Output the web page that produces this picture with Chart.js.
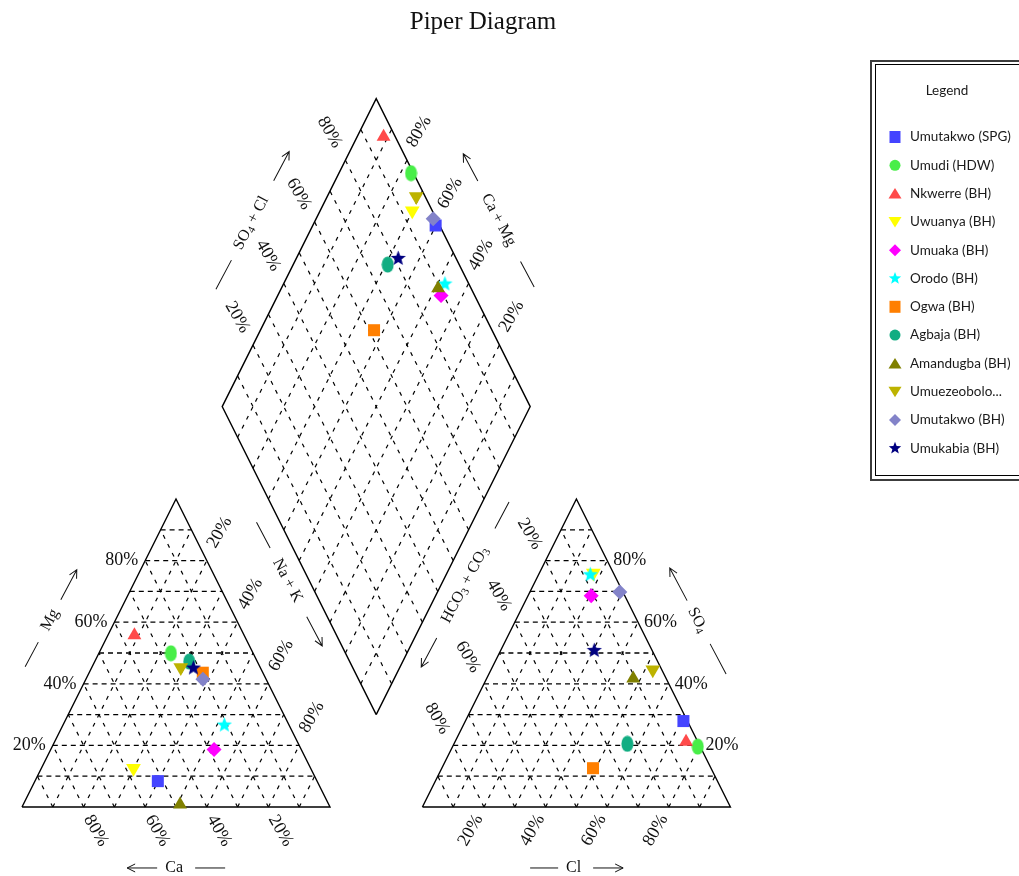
<!DOCTYPE html>
<html>
<head>
<meta charset="utf-8">
<title>Piper Diagram</title>
<script src="https://cdn.jsdelivr.net/npm/chart.js@4.4.1/dist/chart.umd.min.js"></script>
<style>
  html, body { margin: 0; padding: 0; background: #fff; }
  canvas { display: block; }
</style>
</head>
<body>
<canvas id="piper" width="1019" height="876"></canvas>
<script>
// ---- Sample data (percent of meq/L) ----
const sampleNames = ['Umutakwo (SPG)', 'Umudi (HDW)', 'Nkwerre (BH)', 'Uwuanya (BH)', 'Umuaka (BH)', 'Orodo (BH)',
                     'Ogwa (BH)', 'Agbaja (BH)', 'Amandugba (BH)', 'Umuezeobolo...', 'Umutakwo (BH)', 'Umukabia (BH)'];
// cations: Na + K is the remainder
const caPct  = [51.7, 26.7, 35.6, 57.5, 28.3, 21.0, 19.5, 22.1, 48.3, 25.8, 20.5, 21.8];
const mgPct  = [ 8.4, 49.9, 55.8, 12.6, 18.7, 26.6, 43.6, 47.2,  0.8, 45.3, 41.5, 45.1];
// anions: HCO3 + CO3 is the remainder
const clPct  = [70.8, 79.6, 75.0, 17.5, 20.5, 16.8, 49.1, 56.3, 47.6, 52.5, 29.2, 30.4];
const so4Pct = [27.9, 19.6, 21.2, 76.0, 68.6, 75.4, 12.6, 20.5, 41.7, 44.6, 69.8, 50.8];

const gridSteps = [10, 20, 30, 40, 50, 60, 70, 80, 90];
const tickSteps = [20, 40, 60, 80];
const tickLabels = ['20%', '40%', '60%', '80%'];

// ---- Marker styles ----
const markerShapes = ['square', 'circle', 'triUp', 'triDown', 'diamond', 'star',
                      'square', 'circle', 'triUp', 'triDown', 'diamond', 'star'];
const markerColors = ['#4444ff', '#48ee48', '#ff4a4a', '#ffff00', '#ff00ff', '#00ffff',
                      '#ff7f00', '#12ad82', '#808000', '#bdb300', '#8383c9', '#000080'];

// ---- Geometry (triangle side = 100 units, height = 100 units) ----
const W = 1019, H = 876;
const UNIT = 3.08;                 // pixels per unit
const ORIGIN = { x: 22, y: 807 };  // pixel of the cation triangle's lower-left corner
const GAP = 30;                    // space between the two triangles
const RIGHT_OFF = 100 + GAP;
const DB = { x: (100 + RIGHT_OFF) / 2, y: GAP };   // lower vertex of the diamond

const catPos = (ca, mg) => ({ x: (100 - ca - mg) + mg / 2, y: mg });
const aniPos = (cl, so4) => ({ x: RIGHT_OFF + cl + so4 / 2, y: so4 });
const diaFrac = (c, s) => ({ x: DB.x + 50 * (s - c), y: DB.y + 100 * (s + c) });
const diaPos = (ca, mg, cl, so4) => diaFrac((ca + mg) / 100, (cl + so4) / 100);

// ---- Custom point images (ellipse, filled star) ----
function starPath(g, cx, cy, ro, ri) {
  g.beginPath();
  for (let i = 0; i < 10; i++) {
    const r = i % 2 ? ri : ro;
    const a = -Math.PI / 2 + i * Math.PI / 5;
    const X = cx + r * Math.cos(a), Y = cy + r * Math.sin(a);
    if (i) g.lineTo(X, Y); else g.moveTo(X, Y);
  }
  g.closePath();
}
function markerCanvas(shape, color, w, h) {
  const c = document.createElement('canvas');
  c.width = w; c.height = h;
  const g = c.getContext('2d');
  g.fillStyle = color;
  if (shape === 'circle') {
    g.beginPath();
    g.ellipse(w / 2, h / 2, w / 2 - 0.5, h / 2 - 0.5, 0, 0, Math.PI * 2);
    g.fill();
  } else {
    starPath(g, w / 2, h / 2, w / 2 - 0.5, (w / 2 - 0.5) * 0.43);
    g.fill();
  }
  return c;
}
function pointStyleFor(shape, color) {
  switch (shape) {
    case 'square':  return { style: 'rect', radius: 8.5, rotation: 0 };
    case 'triUp':   return { style: 'triangle', radius: 8, rotation: 0 };
    case 'triDown': return { style: 'triangle', radius: 8.5, rotation: 180 };
    case 'diamond': return { style: 'rectRot', radius: 7.5, rotation: 0 };
    case 'circle':  return { style: markerCanvas('circle', color, 13, 17), radius: 7, rotation: 0 };
    default:        return { style: markerCanvas('star', color, 17, 17), radius: 8, rotation: 0 };
  }
}

// ---- Datasets ----
const datasets = [];
function addLine(points, dash, width, order) {
  datasets.push({
    data: points, showLine: true, fill: false, borderColor: '#000', borderWidth: width,
    borderDash: dash, pointRadius: 0, order: order, isFrame: true
  });
}
const DASH_H = [5, 4];
const DASH_S = [4, 6];
gridSteps.forEach(t => {
  // cation triangle
  addLine([{ x: t / 2, y: t }, { x: 100 - t / 2, y: t }], DASH_H, 1.3, 100);        // Mg
  addLine([catPos(t, 0), catPos(t, 100 - t)], DASH_S, 1.2, 100);                      // Ca
  addLine([catPos(100 - t, 0), catPos(0, 100 - t)], DASH_S, 1.2, 100);                // Na + K
  // anion triangle
  addLine([aniPos(0, t), aniPos(100 - t, t)], DASH_H, 1.3, 100);                      // SO4
  addLine([aniPos(t, 0), aniPos(t, 100 - t)], DASH_S, 1.2, 100);                      // Cl
  addLine([aniPos(100 - t, 0), aniPos(0, 100 - t)], DASH_S, 1.2, 100);                // HCO3
  // diamond
  addLine([diaFrac(0, t / 100), diaFrac(1, t / 100)], DASH_S, 1.2, 100);
  addLine([diaFrac(t / 100, 0), diaFrac(t / 100, 1)], DASH_S, 1.2, 100);
});
addLine([catPos(100, 0), catPos(0, 0), catPos(0, 100), catPos(100, 0)], [], 1.4, 50);
addLine([aniPos(0, 0), aniPos(100, 0), aniPos(0, 100), aniPos(0, 0)], [], 1.4, 50);
addLine([diaFrac(0, 0), diaFrac(0, 1), diaFrac(1, 1), diaFrac(1, 0), diaFrac(0, 0)], [], 1.4, 50);

sampleNames.forEach((name, i) => {
  const ps = pointStyleFor(markerShapes[i], markerColors[i]);
  datasets.push({
    label: name,
    data: [
      catPos(caPct[i], mgPct[i]),
      aniPos(clPct[i], so4Pct[i]),
      diaPos(caPct[i], mgPct[i], clPct[i], so4Pct[i])
    ],
    showLine: false,
    pointStyle: ps.style,
    pointRadius: ps.radius,
    pointRotation: ps.rotation,
    pointBackgroundColor: markerColors[i],
    pointBorderColor: markerColors[i],
    pointBorderWidth: 0,
    order: sampleNames.length - i,
    shape: markerShapes[i]
  });
});

// ---- Text helpers ----
const INK = '#111111';
const SERIF = '"Liberation Serif", "DejaVu Serif", serif';
function rotText(ctx, text, x, y, deg, align) {
  ctx.save();
  ctx.translate(x, y);
  ctx.rotate(deg * Math.PI / 180);
  ctx.textAlign = align;
  ctx.textBaseline = 'middle';
  ctx.fillText(text, 0, 0);
  ctx.restore();
}
const MAIN_F = '16px ' + SERIF, SUB_F = '11px ' + SERIF;
function segsWidth(ctx, segs) {
  let w = 0;
  segs.forEach(s => { ctx.font = s.sub ? SUB_F : MAIN_F; w += ctx.measureText(s.t).width; });
  return w;
}
function drawSegs(ctx, segs) {
  let x = -segsWidth(ctx, segs) / 2;
  ctx.textAlign = 'left';
  ctx.textBaseline = 'middle';
  segs.forEach(s => {
    ctx.font = s.sub ? SUB_F : MAIN_F;
    ctx.fillText(s.t, x, s.sub ? 4 : 0);
    x += ctx.measureText(s.t).width;
  });
}
const T = t => ({ t: t }), S = t => ({ t: t, sub: true });

// axis names: centre (data units), angle, plain segment, arrow segment (pixels along the text direction)
const axisNames = [
  { segs: [T('Mg')],                         at: { x: 9.1,   y: 60.7 },  deg: -62, line: [-53, -25], arrow: [23, 57],   head: 1 },
  { segs: [T('Ca')],                         at: { x: 49.4,  y: -19.8 }, deg: 0,   line: [21, 51],   arrow: [-47, -17], head: -1 },
  { segs: [T('Na + K')],                     at: { x: 86.2,  y: 73.5 },  deg: 62,  line: [-66, -37], arrow: [41, 74],   head: 1 },
  { segs: [T('HCO'), S('3'), T(' + CO'), S('3')], at: { x: 143.8, y: 72.1 }, deg: -62, line: [64, 94], arrow: [-93, -60], head: -1 },
  { segs: [T('SO'), S('4'), T(' + Cl')],     at: { x: 74.4,  y: 189.6 }, deg: -62, line: [-75, -42], arrow: [48, 81],   head: 1 },
  { segs: [T('Ca + Mg')],                    at: { x: 154.7, y: 190.6 }, deg: 62,  line: [47, 76],   arrow: [-75, -44], head: -1 },
  { segs: [T('SO'), S('4')],                 at: { x: 219.3, y: 60.7 },  deg: 62,  line: [27, 61],   arrow: [-59, -22], head: -1 },
  { segs: [T('Cl')],                         at: { x: 179.1, y: -19.8 }, deg: 0,   line: [-43.5, -15.5], arrow: [19.5, 49.5], head: 1 }
];

function drawMarker(ctx, shape, x, y, color) {
  ctx.fillStyle = color;
  ctx.beginPath();
  switch (shape) {
    case 'square': ctx.rect(x - 5.5, y - 6, 11, 12); break;
    case 'circle': ctx.arc(x, y, 5.5, 0, Math.PI * 2); break;
    case 'triUp': ctx.moveTo(x, y - 5.5); ctx.lineTo(x + 6.5, y + 5); ctx.lineTo(x - 6.5, y + 5); ctx.closePath(); break;
    case 'triDown': ctx.moveTo(x, y + 5.5); ctx.lineTo(x + 6.5, y - 5); ctx.lineTo(x - 6.5, y - 5); ctx.closePath(); break;
    case 'diamond': ctx.moveTo(x, y - 6); ctx.lineTo(x + 6, y); ctx.lineTo(x, y + 6); ctx.lineTo(x - 6, y); ctx.closePath(); break;
    default: starPath(ctx, x, y, 6.5, 2.8);
  }
  ctx.fill();
}

const piperText = {
  id: 'piperText',
  afterDraw(chart) {
    const ctx = chart.ctx;
    const sx = chart.scales.x, sy = chart.scales.y;
    const P = p => ({ x: sx.getPixelForValue(p.x), y: sy.getPixelForValue(p.y) });
    ctx.save();
    ctx.fillStyle = INK;
    ctx.strokeStyle = INK;

    // chart title
    ctx.font = '25px ' + SERIF;
    ctx.textAlign = 'center';
    ctx.textBaseline = 'middle';
    ctx.fillText('Piper Diagram', 483, 22);

    // tick labels
    ctx.font = '18px ' + SERIF;
    tickSteps.forEach((t, k) => {
      const lab = tickLabels[k];
      let p;
      p = P({ x: t / 2, y: t });                            // Mg
      rotText(ctx, lab, p.x - 7, p.y, 0, 'right');
      p = P(catPos(t, 0));                                  // Ca
      rotText(ctx, lab, p.x + 4, p.y + 9.5, 60, 'left');
      p = P(catPos(0, 100 - t));                            // Na + K
      rotText(ctx, lab, p.x + 4.5, p.y - 14, -60, 'left');
      p = P(aniPos(t, 0));                                  // Cl
      rotText(ctx, lab, p.x - 5, p.y + 9, -60, 'right');
      p = P(aniPos(0, 100 - t));                            // HCO3 + CO3
      rotText(ctx, lab, p.x - 7.8, p.y - 12.5, 60, 'right');
      p = P(aniPos(100 - t, t));                            // SO4
      rotText(ctx, lab, p.x + 6, p.y, 0, 'left');
      p = P(diaFrac(1, t / 100));                           // SO4 + Cl
      rotText(ctx, lab, p.x - 7.5, p.y - 13.5, 60, 'right');
      p = P(diaFrac(t / 100, 1));                           // Ca + Mg
      rotText(ctx, lab, p.x + 4, p.y - 14.3, -60, 'left');
    });

    // axis names with arrows
    ctx.lineWidth = 1;
    axisNames.forEach(a => {
      const c = P(a.at);
      ctx.save();
      ctx.translate(c.x, c.y);
      ctx.rotate(a.deg * Math.PI / 180);
      drawSegs(ctx, a.segs);
      ctx.beginPath();
      ctx.moveTo(a.line[0], 0); ctx.lineTo(a.line[1], 0);
      ctx.moveTo(a.arrow[0], 0); ctx.lineTo(a.arrow[1], 0);
      const h = a.head > 0 ? a.arrow[1] : a.arrow[0];
      ctx.moveTo(h - a.head * 8, -4); ctx.lineTo(h, 0); ctx.lineTo(h - a.head * 8, 4);
      ctx.stroke();
      ctx.restore();
    });

    // legend box
    ctx.lineWidth = 2;
    ctx.strokeStyle = '#3c3c3c';
    ctx.strokeRect(871, 61, 200, 419);
    ctx.lineWidth = 1;
    ctx.strokeStyle = '#000';
    ctx.strokeRect(875.5, 64.5, 200, 411);
    ctx.fillStyle = '#1a1a1a';
    ctx.font = '13.5px Lato, "Liberation Sans", sans-serif';
    ctx.textAlign = 'center';
    ctx.textBaseline = 'middle';
    ctx.fillText('Legend', 947, 91);
    ctx.textAlign = 'left';
    const items = chart.data.datasets.filter(d => !d.isFrame);
    items.forEach((d, i) => {
      const y = 137 + i * 28.3;
      drawMarker(ctx, d.shape, 895, y, d.pointBackgroundColor);
      ctx.fillStyle = '#1a1a1a';
      ctx.fillText(d.label, 910, y);
    });
    ctx.restore();
  }
};

new Chart(document.getElementById('piper'), {
  type: 'scatter',
  data: { datasets: datasets },
  options: {
    responsive: false,
    devicePixelRatio: 1,
    animation: false,
    events: [],
    layout: { padding: 0, autoPadding: false },
    scales: {
      x: { type: 'linear', display: false, min: -ORIGIN.x / UNIT, max: (W - ORIGIN.x) / UNIT },
      y: { type: 'linear', display: false, min: -(H - ORIGIN.y) / UNIT, max: ORIGIN.y / UNIT }
    },
    plugins: {
      legend: { display: false },
      title: { display: false },
      tooltip: { enabled: false }
    }
  },
  plugins: [piperText]
});
</script>
</body>
</html>
